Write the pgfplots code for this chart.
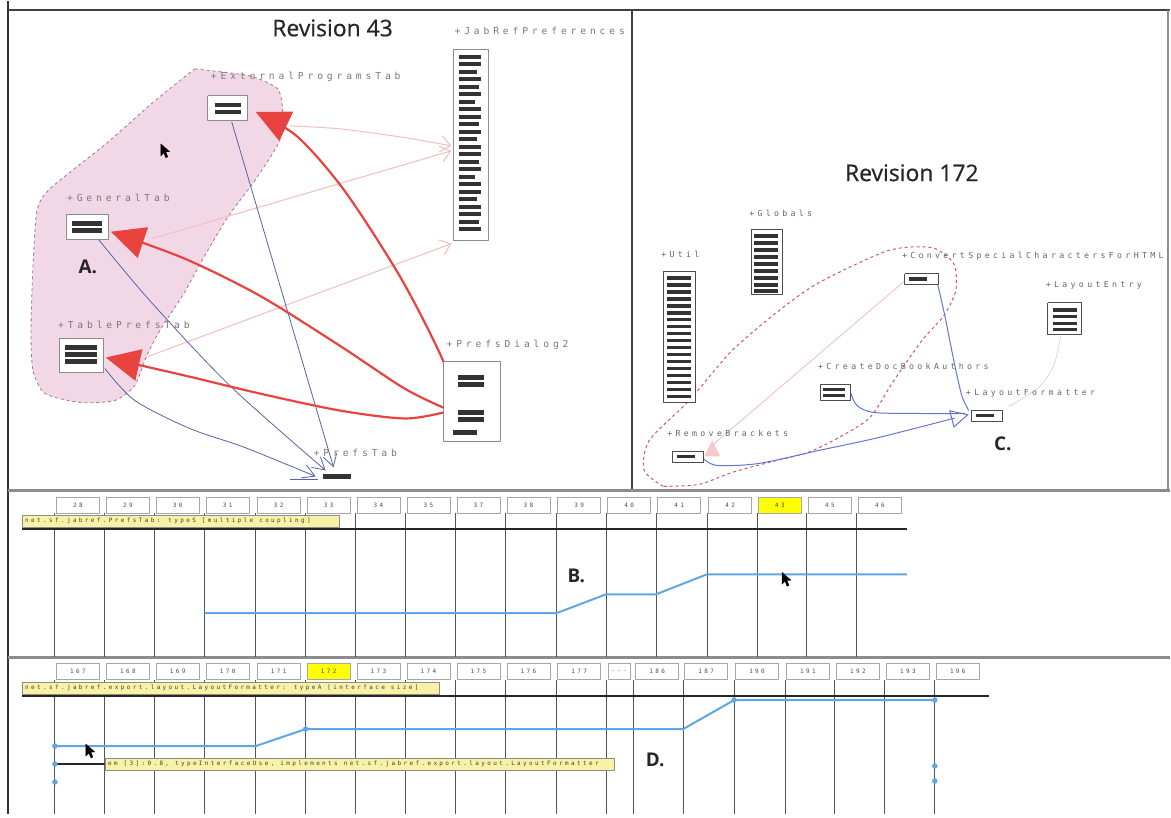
\documentclass[border=0pt]{standalone}
\usepackage{pgfplots}
\pgfplotsset{compat=1.18}
\usepackage{fontspec}
\setmainfont{Open Sans}
\newfontfamily\titlefont[FakeBold=0.6]{Open Sans}
\newfontfamily\labfont[LetterSpace=40]{DejaVu Sans Mono}
\usetikzlibrary{arrows.meta}
\definecolor{pinkfill}{HTML}{F2D8E7}
\definecolor{blobedge}{HTML}{9A7A88}
\definecolor{redarr}{HTML}{E8433F}
\definecolor{palepink}{HTML}{F5BDBD}
\definecolor{slate}{HTML}{5563A8}
\definecolor{cblue}{HTML}{6575D6}
\definecolor{tlblue}{HTML}{5EA6E4}
\definecolor{labgray}{HTML}{7A7A7A}
\definecolor{yel}{HTML}{F7F2A6}
\definecolor{yelbright}{HTML}{FFFF00}
\definecolor{gridgray}{HTML}{555555}
\definecolor{reddash}{HTML}{D2566A}
\tikzset{
 lab/.style={anchor=west, inner sep=0pt, text=labgray, font=\labfont\fontsize{9.7}{10}\selectfont},
 labc/.style={anchor=west, inner sep=0pt, text=black!60, font=\labfont\fontsize{8.3}{9}\selectfont},
 big/.style={inner sep=0pt, text=black!85, font=\titlefont\fontsize{23}{25}\selectfont},
 letter/.style={inner sep=0pt, text=black!85, font=\bfseries\fontsize{19}{20}\selectfont},
 bartext/.style={anchor=west, inner sep=0pt, text=black!75, font=\labfont\fontsize{6}{7}\selectfont}
}
\pgfplotsset{
 rows/.style={only marks, mark=*, mark size=0pt, mark options={draw opacity=0, fill opacity=0},
   error bars/.cd, x dir=both, x explicit, error mark=none, error bar style={line width=#1, black!80}},
 vlines/.style={only marks, mark=*, mark size=0pt, mark options={draw opacity=0, fill opacity=0},
   error bars/.cd, y dir=both, y explicit, error mark=none, error bar style={line width=1pt, gridgray}},
 hdrbase/.style={only marks, mark=square*, mark size=8,
  point meta=explicit symbolic, nodes near coords, nodes near coords align=center,
  every node near coord/.style={anchor=center, inner sep=0pt, text=black!70, font=\labfont\fontsize{6}{7}\selectfont}},
 hdr/.style={hdrbase, mark options={xscale=#1, draw=black!35, fill=white, line width=0.6pt}},
 hdry/.style={hdrbase, mark options={xscale=#1, draw=black!35, fill=yelbright, line width=0.6pt}}
}
\begin{document}
\begin{tikzpicture}
\begin{axis}[scale only axis, width=1171bp, height=814bp,
  xmin=0, xmax=1171, ymin=0, ymax=814, y dir=reverse,
  hide axis, clip=false, unbounded coords=jump,
  every axis plot/.append style={line join=round}]
% background
\addplot[fill=white, draw=none] coordinates {(0,0)(1171,0)(1171,814)(0,814)};
% ================= PANEL A =================
\addplot[fill=pinkfill, draw=none, smooth, tension=0.4] coordinates {(195,68)(250,75)(278,88)(283,110)(280,140)(255,180)(229,215)(205,255)(184,293)(160,330)(147,355)(135,385)(115,400)(80,402)(45,393)(33,370)(31,330)(33,267)(37,210)(50,188)(106,143)(155,100)(195,68)};
\addplot[draw=blobedge, dashed, line width=0.8pt, smooth, tension=0.4] coordinates {(195,68)(250,75)(278,88)(283,110)(280,140)(255,180)(229,215)(205,255)(184,293)(160,330)(147,355)(135,385)(115,400)(80,402)(45,393)(33,370)(31,330)(33,267)(37,210)(50,188)(106,143)(155,100)(195,68)};
% pale pink dependencies to JabRefPreferences
\addplot[palepink, line width=1pt, smooth, -{Straight Barb[length=10,width=16]}] coordinates {(290,125)(340,128)(400,136)(452,145)};
\addplot[palepink, line width=1pt, -{Straight Barb[length=10,width=16]}] coordinates {(152,238)(452,150)};
\addplot[palepink, line width=1pt, -{Straight Barb[length=10,width=16]}] coordinates {(148,356)(452,243)};
% slate dependencies to PrefsTab
\addplot[slate, line width=0.8pt, -{Straight Barb[length=12,width=14]}] coordinates {(232,121)(334,467)};
\addplot[slate, line width=0.8pt, smooth, -{Straight Barb[length=12,width=14]}] coordinates {(98,238)(150,300)(230,385)(326,470)};
\addplot[slate, line width=0.8pt, smooth, -{Straight Barb[length=12,width=14]}] coordinates {(105,368)(135,400)(190,428)(245,447)(316,476)};
\addplot[slate, line width=0.8pt] coordinates {(290,479)(318,479)};
% red dependencies from PrefsDialog2
\addplot[redarr, line width=2.2pt, smooth, -{Triangle[length=34,width=32]}] coordinates {(462,408)(440,352)(400,275)(345,190)(298,136)(256,111)};
\addplot[redarr, line width=2.2pt, smooth, -{Triangle[length=34,width=32]}] coordinates {(446,408)(405,388)(340,345)(260,295)(185,258)(111,231)};
\addplot[redarr, line width=2.2pt, smooth, -{Triangle[length=34,width=32]}] coordinates {(444,412)(405,418)(340,410)(260,393)(185,375)(106,357)};
% class boxes (outlines)
\addplot[draw=black!45, fill=white, line width=0.8pt] coordinates {(208,95)(248,95)(248,120)(208,120)(208,95)(0,nan)
(66,214)(109,214)(109,239)(66,239)(66,214)(0,nan)
(59,338)(104,338)(104,372)(59,372)(59,338)(0,nan)
(444,361)(501,361)(501,441)(444,441)(444,361)(0,nan)
(454,48)(489,48)(489,240)(454,240)(454,48)};
% class box rows
\addplot[rows=4.5bp] coordinates {
(228,104)+-(13,0) (228,111)+-(13,0)
(87,223)+-(15,0) (87,230)+-(15,0)
(81,347)+-(16,0) (81,354)+-(16,0) (81,361)+-(16,0)
(472,377)+-(13,0) (472,384)+-(13,0) (472,412)+-(13,0) (472,419)+-(13,0) (466,432)+-(12,0)
(337,476)+-(14,0)};
\addplot[rows=4bp] coordinates {
(471,56)+-(11,0) (471,63.5)+-(11,0) (469,71)+-(9,0) (471,78.5)+-(11,0) (470,86)+-(10,0) (471,93.5)+-(11,0)
(468,101)+-(8,0) (471,108.5)+-(11,0) (471,116)+-(11,0) (470,123.5)+-(10,0) (471,131)+-(11,0) (469,138.5)+-(9,0)
(471,146)+-(11,0) (471,153.5)+-(11,0) (470,161)+-(10,0) (471,168.5)+-(11,0) (468,176)+-(8,0) (471,183.5)+-(11,0)
(471,191)+-(11,0) (469,198.5)+-(9,0) (471,206)+-(11,0) (471,213.5)+-(11,0) (470,221)+-(10,0) (471,228.5)+-(11,0)};
% cursor A
\addplot[fill=black, draw=black, line width=0.3pt] coordinates {(161,143)(161,155)(164,152)(166,157)(168,156)(166,151)(170,151)(161,143)};
% ================= PANEL C =================
\addplot[reddash, dashed, line width=1pt, smooth, tension=0.45] coordinates {(664,486)(645,470)(650,440)(690,400)(733,350)(780,310)(820,282)(889,250)(933,247)(955,263)(957,290)(945,315)(923,340)(895,380)(871,417)(840,437)(809,452)(770,462)(733,472)(700,484)(664,486)};
\addplot[palepink, line width=0.8pt] coordinates {(713,445)(905,281)};
\addplot[black!15, line width=0.8pt, smooth] coordinates {(1062,336)(1055,365)(1040,387)(1010,406)};
\addplot[cblue, line width=1pt, smooth] coordinates {(938,280)(946,315)(955,360)(963,395)(970,410)};
\addplot[cblue, line width=1pt, smooth] coordinates {(852,393)(858,405)(875,412)(920,413)(966,413)};
\addplot[cblue, line width=1pt, smooth, -{Triangle[open,length=18,width=18]}] coordinates {(704,458)(718,465)(760,463)(820,450)(880,437)(970,414)};
\addplot[fill=palepink!80, draw=none] coordinates {(705,456)(721,456)(713,440)(705,456)};
\addplot[draw=black!70, fill=white, line width=0.8pt] coordinates {(752,229)(783,229)(783,294)(752,294)(752,229)(0,nan)
(664,271)(696,271)(696,402)(664,402)(664,271)(0,nan)
(906,273)(940,273)(940,284)(906,284)(906,273)(0,nan)
(1049,302)(1083,302)(1083,334)(1049,334)(1049,302)(0,nan)
(821,384)(851,384)(851,400)(821,400)(821,384)(0,nan)
(973,410)(1004,410)(1004,421)(973,421)(973,410)(0,nan)
(673,451)(704,451)(704,462)(673,462)(673,451)};
\addplot[rows=3.8bp] coordinates {
(767,235)+-(12,0) (767,242)+-(12,0) (767,249)+-(12,0) (767,256)+-(12,0) (767,263)+-(12,0) (767,270)+-(12,0) (767,277)+-(12,0) (767,284)+-(12,0) (767,290)+-(12,0)
(680,277)+-(12,0) (680,284)+-(12,0) (680,291)+-(12,0) (680,298)+-(12,0) (680,305)+-(12,0) (680,312)+-(12,0) (680,319)+-(12,0) (680,326)+-(12,0) (680,333)+-(12,0)
(680,340)+-(12,0) (680,347)+-(12,0) (680,354)+-(12,0) (680,361)+-(12,0) (680,368)+-(12,0) (680,375)+-(12,0) (680,382)+-(12,0) (680,389)+-(12,0) (680,396)+-(12,0)
(1066,309)+-(12,0) (1066,316)+-(12,0) (1066,323)+-(12,0) (1066,329)+-(12,0)
(835,389)+-(11,0) (835,395)+-(11,0)
(919,278)+-(9,0) (986,415)+-(9,0) (687,456)+-(9,0)};
% ================= FRAME =================
\addplot[black!80, line width=2pt] coordinates {(8,0)(8,814)};
\addplot[black!75, line width=2pt] coordinates {(8,9)(1171,9)};
\addplot[black!45, line width=2pt] coordinates {(1169,9)(1169,490)};
\addplot[black!75, line width=1.5pt] coordinates {(633,9)(633,490)};
\addplot[black!45, line width=3pt] coordinates {(8,490)(1171,490)};
\addplot[black!45, line width=3pt] coordinates {(8,657)(1171,657)};
% ================= PANEL B =================
\addplot[vlines] coordinates {
(55,585)+-(0,72) (105,585)+-(0,72) (155,585)+-(0,72) (205,585)+-(0,72) (256,585)+-(0,72) (306,585)+-(0,72)
(356,585)+-(0,72) (406,585)+-(0,72) (456,585)+-(0,72) (506,585)+-(0,72) (557,585)+-(0,72) (607,585)+-(0,72)
(657,585)+-(0,72) (708,585)+-(0,72) (758,585)+-(0,72) (808,585)+-(0,72) (858,585)+-(0,72)};
\addplot[black!85, line width=1.8pt] coordinates {(22,529)(908,529)};
\addplot[fill=yel, draw=black!45, line width=0.6pt] coordinates {(22,515)(340,515)(340,527)(22,527)(22,515)};
\addplot[hdr=2.7] coordinates {(78,505)[28] (128,505)[29] (178,505)[30] (228,505)[31] (279,505)[32] (329,505)[33] (379,505)[34] (429,505)[35]
  (479,505)[37] (529,505)[38] (580,505)[39] (630,505)[40] (680,505)[41] (731,505)[42] (831,505)[45] (881,505)[46]};
\addplot[hdry=2.7] coordinates {(781,505)[43]};
\addplot[tlblue, line width=2pt] coordinates {(205,613)(557,613)(607,594)(657,594)(708,574)(908,574)};
\addplot[fill=black, draw=black, line width=0.3pt] coordinates {(783,572)(783,584)(786,581)(788,586)(790,585)(788,580)(792,580)(783,572)};
% ================= PANEL D =================
\addplot[vlines] coordinates {
(55,747)+-(0,67) (105,747)+-(0,67) (155,747)+-(0,67) (205,747)+-(0,67) (256,747)+-(0,67) (306,747)+-(0,67)
(356,747)+-(0,67) (406,747)+-(0,67) (456,747)+-(0,67) (506,747)+-(0,67) (557,747)+-(0,67) (607,747)+-(0,67)
(634,747)+-(0,67) (684,747)+-(0,67) (735,747)+-(0,67) (786,747)+-(0,67) (836,747)+-(0,67) (886,747)+-(0,67) (936,747)+-(0,67)};
\addplot[black!85, line width=1.8pt] coordinates {(22,696)(990,696)};
\addplot[fill=yel, draw=black!45, line width=0.6pt] coordinates {(22,682)(440,682)(440,694)(22,694)(22,682)};
\addplot[hdr=2.7] coordinates {(78,671)[167] (128,671)[168] (178,671)[169] (228,671)[170] (279,671)[171] (379,671)[173] (429,671)[174]
  (479,671)[175] (529,671)[176] (580,671)[177] (658,671)[186] (707,671)[187] (758,671)[190] (809,671)[191] (859,671)[192] (909,671)[193] (959,671)[196]};
\addplot[hdr=1.4] coordinates {(620,671)[...]};
\addplot[hdry=2.7] coordinates {(329,671)[172]};
\addplot[tlblue, line width=2pt] coordinates {(55,746)(256,746)(306,729)(684,729)(735,700)(936,700)};
\addplot[black!85, line width=1.5pt] coordinates {(55,764)(105,764)};
\addplot[fill=yel, draw=black!45, line width=0.6pt] coordinates {(105,758)(615,758)(615,770)(105,770)(105,758)};
\addplot[only marks, mark=*, mark size=2.5, tlblue] coordinates {(55,746)(55,764)(55,782)(306,729)(735,700)(936,700)(936,766)(936,781)};
\addplot[fill=black, draw=black, line width=0.3pt] coordinates {(86,744)(86,756)(89,753)(91,758)(93,757)(91,752)(95,752)(86,744)};
% ================= TEXT =================
\node[big] at (axis cs:333,27) {Revision 43};
\node[big] at (axis cs:913,172) {Revision 172};
\node[letter] at (axis cs:88,266) {A.};
\node[letter] at (axis cs:577,576) {B.};
\node[letter] at (axis cs:1004,443) {C.};
\node[letter] at (axis cs:656,760) {D.};
\node[lab] at (axis cs:455,30) {+JabRefPreferences};
\node[lab] at (axis cs:211,76) {+ExternalProgramsTab};
\node[lab] at (axis cs:67,197) {+GeneralTab};
\node[lab] at (axis cs:58,324) {+TablePrefsTab};
\node[lab] at (axis cs:447,344) {+PrefsDialog2};
\node[lab] at (axis cs:314,452) {+PrefsTab};
\node[labc] at (axis cs:750,213) {+Globals};
\node[labc] at (axis cs:662,254) {+Util};
\node[labc] at (axis cs:903,256) {+ConvertSpecialCharactersForHTML};
\node[labc] at (axis cs:1047,285) {+LayoutEntry};
\node[labc] at (axis cs:819,366) {+CreateDocBookAuthors};
\node[labc] at (axis cs:967,393) {+LayoutFormatter};
\node[labc] at (axis cs:668,433) {+RemoveBrackets};
\node[bartext] at (axis cs:25,521) {net.sf.jabref.PrefsTab: typeS [multiple coupling]};
\node[bartext] at (axis cs:25,688) {net.sf.jabref.export.layout.LayoutFormatter: typeA [interface size]};
\node[bartext] at (axis cs:108,764) {em [3]:0.8, typeInterfaceUse, implements net.sf.jabref.export.layout.LayoutFormatter};
\end{axis}
\end{tikzpicture}
\end{document}
